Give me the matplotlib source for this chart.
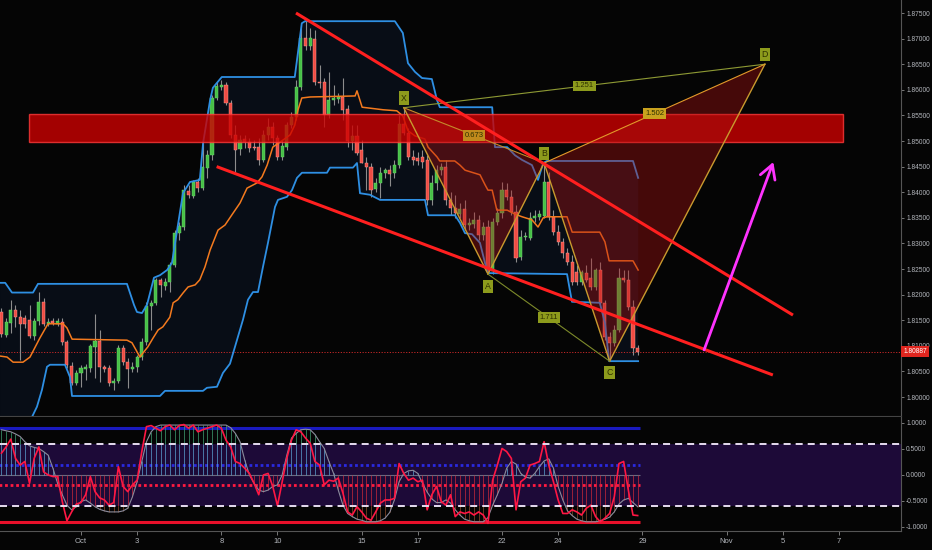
import numpy as np
import matplotlib
matplotlib.use("Agg")
import matplotlib.pyplot as plt
import matplotlib.transforms as mtransforms
from matplotlib.patches import Polygon, Rectangle

plt.rcParams['font.family'] = ['Liberation Sans', 'DejaVu Sans']

# ---------------- data (4h bars, index 0 = first bar of Oct 1) ----------------
first_bar = -17
opens = [1.8166, 1.8121, 1.8145, 1.8170, 1.8156, 1.8154, 1.8151, 1.8119, 1.8149, 1.8186,
         1.8143, 1.8149, 1.8143, 1.8147, 1.8107, 1.8061, 1.8027, 1.8047, 1.8055, 1.8057,
         1.8097, 1.8109, 1.8059, 1.8057, 1.8027, 1.8031, 1.8095, 1.8068, 1.8055, 1.8059,
         1.8078, 1.8107, 1.8178, 1.8184, 1.8229, 1.8217, 1.8225, 1.8258, 1.8320, 1.8332,
         1.8402, 1.8393, 1.8420, 1.8408, 1.8447, 1.8472, 1.8584, 1.8605, 1.8609, 1.8574,
         1.8512, 1.8484, 1.8504, 1.8498, 1.8488, 1.8488, 1.8463, 1.8512, 1.8527, 1.8506,
         1.8469, 1.8488, 1.8531, 1.8547, 1.8605, 1.8701, 1.8686, 1.8699, 1.8615, 1.8615,
         1.8551, 1.8580, 1.8582, 1.8586, 1.8563, 1.8500, 1.8510, 1.8482, 1.8458, 1.8449,
         1.8406, 1.8418, 1.8438, 1.8444, 1.8438, 1.8453, 1.8533, 1.8516, 1.8469, 1.8467,
         1.8469, 1.8463, 1.8385, 1.8418, 1.8444, 1.8449, 1.8385, 1.8369, 1.8357, 1.8367,
         1.8336, 1.8338, 1.8346, 1.8316, 1.8332, 1.8246, 1.8342, 1.8359, 1.8404, 1.8391,
         1.8361, 1.8273, 1.8312, 1.8310, 1.8350, 1.8352, 1.8354, 1.8420, 1.8352, 1.8322,
         1.8302, 1.8281, 1.8264, 1.8244, 1.8225, 1.8242, 1.8233, 1.8215, 1.8248, 1.8184,
         1.8117, 1.8105, 1.8131, 1.8233, 1.8229, 1.8176, 1.8095]
highs = [1.8174, 1.8154, 1.8190, 1.8180, 1.8170, 1.8160, 1.8180, 1.8154, 1.8205, 1.8194,
         1.8154, 1.8154, 1.8154, 1.8154, 1.8111, 1.8068, 1.8053, 1.8063, 1.8065, 1.8103,
         1.8162, 1.8131, 1.8063, 1.8063, 1.8037, 1.8101, 1.8101, 1.8076, 1.8068, 1.8082,
         1.8115, 1.8186, 1.8190, 1.8233, 1.8233, 1.8233, 1.8264, 1.8326, 1.8342, 1.8414,
         1.8414, 1.8424, 1.8428, 1.8502, 1.8482, 1.8590, 1.8615, 1.8619, 1.8615, 1.8580,
         1.8531, 1.8512, 1.8512, 1.8506, 1.8502, 1.8506, 1.8522, 1.8545, 1.8537, 1.8512,
         1.8502, 1.8537, 1.8556, 1.8619, 1.8727, 1.8734, 1.8721, 1.8717, 1.8649, 1.8623,
         1.8635, 1.8609, 1.8594, 1.8623, 1.8570, 1.8531, 1.8531, 1.8502, 1.8469, 1.8458,
         1.8428, 1.8449, 1.8447, 1.8453, 1.8463, 1.8551, 1.8565, 1.8525, 1.8482, 1.8478,
         1.8482, 1.8472, 1.8434, 1.8453, 1.8458, 1.8463, 1.8400, 1.8395, 1.8379, 1.8385,
         1.8350, 1.8361, 1.8355, 1.8342, 1.8346, 1.8350, 1.8369, 1.8420, 1.8418, 1.8404,
         1.8375, 1.8326, 1.8322, 1.8361, 1.8365, 1.8365, 1.8457, 1.8440, 1.8365, 1.8336,
         1.8310, 1.8291, 1.8277, 1.8258, 1.8248, 1.8258, 1.8271, 1.8252, 1.8264, 1.8190,
         1.8127, 1.8141, 1.8252, 1.8248, 1.8248, 1.8190, 1.8101]
lows = [1.8117, 1.8117, 1.8125, 1.8137, 1.8072, 1.8135, 1.8115, 1.8111, 1.8141, 1.8139,
        1.8139, 1.8141, 1.8139, 1.8101, 1.8057, 1.8023, 1.8023, 1.8020, 1.8033, 1.8049,
        1.8037, 1.8029, 1.8049, 1.8021, 1.8013, 1.8027, 1.8063, 1.8018, 1.8049, 1.8049,
        1.8072, 1.8101, 1.8131, 1.8180, 1.8195, 1.8209, 1.8205, 1.8254, 1.8307, 1.8326,
        1.8389, 1.8389, 1.8400, 1.8404, 1.8428, 1.8463, 1.8580, 1.8600, 1.8570, 1.8506,
        1.8440, 1.8472, 1.8486, 1.8478, 1.8482, 1.8453, 1.8459, 1.8502, 1.8492, 1.8463,
        1.8463, 1.8482, 1.8525, 1.8541, 1.8600, 1.8678, 1.8678, 1.8609, 1.8604, 1.8527,
        1.8545, 1.8570, 1.8574, 1.8541, 1.8488, 1.8482, 1.8472, 1.8458, 1.8404, 1.8391,
        1.8400, 1.8389, 1.8428, 1.8412, 1.8428, 1.8447, 1.8512, 1.8463, 1.8453, 1.8453,
        1.8447, 1.8375, 1.8375, 1.8404, 1.8434, 1.8375, 1.8355, 1.8350, 1.8350, 1.8326,
        1.8326, 1.8330, 1.8307, 1.8307, 1.8242, 1.8240, 1.8336, 1.8350, 1.8385, 1.8355,
        1.8264, 1.8268, 1.8307, 1.8307, 1.8342, 1.8346, 1.8350, 1.8346, 1.8316, 1.8297,
        1.8271, 1.8258, 1.8219, 1.8219, 1.8219, 1.8225, 1.8209, 1.8209, 1.8180, 1.8111,
        1.8072, 1.8099, 1.8127, 1.8225, 1.8170, 1.8082, 1.8082]
closes = [1.8123, 1.8147, 1.8170, 1.8156, 1.8143, 1.8143, 1.8119, 1.8149, 1.8186, 1.8143,
          1.8147, 1.8145, 1.8149, 1.8107, 1.8063, 1.8027, 1.8047, 1.8057, 1.8059, 1.8099,
          1.8109, 1.8059, 1.8055, 1.8027, 1.8031, 1.8095, 1.8068, 1.8055, 1.8059, 1.8078,
          1.8107, 1.8178, 1.8184, 1.8229, 1.8219, 1.8225, 1.8258, 1.8320, 1.8334, 1.8404,
          1.8395, 1.8420, 1.8408, 1.8449, 1.8472, 1.8584, 1.8607, 1.8609, 1.8574, 1.8512,
          1.8482, 1.8502, 1.8498, 1.8486, 1.8486, 1.8463, 1.8512, 1.8527, 1.8506, 1.8469,
          1.8490, 1.8531, 1.8547, 1.8605, 1.8701, 1.8686, 1.8701, 1.8615, 1.8613, 1.8551,
          1.8580, 1.8584, 1.8586, 1.8561, 1.8500, 1.8510, 1.8477, 1.8458, 1.8449, 1.8404,
          1.8418, 1.8438, 1.8444, 1.8436, 1.8453, 1.8533, 1.8516, 1.8469, 1.8463, 1.8461,
          1.8459, 1.8385, 1.8418, 1.8444, 1.8449, 1.8385, 1.8369, 1.8359, 1.8367, 1.8336,
          1.8340, 1.8346, 1.8316, 1.8332, 1.8246, 1.8342, 1.8359, 1.8404, 1.8391, 1.8361,
          1.8271, 1.8312, 1.8314, 1.8350, 1.8354, 1.8357, 1.8420, 1.8352, 1.8322, 1.8302,
          1.8281, 1.8264, 1.8225, 1.8225, 1.8244, 1.8229, 1.8215, 1.8248, 1.8184, 1.8117,
          1.8105, 1.8131, 1.8233, 1.8229, 1.8176, 1.8095, 1.80887]
last_price = 1.80887

# channel (upper / lower / middle) read as polylines: bar position, price
upper_bx = [-17.3, -16.2, -14.75, -10.26, -9.19, 9.83, 11.33, 11.97, 13.04, 14.11, 15.6, 16.9,
            18.4, 19.45, 21.8, 23.3, 25.4, 26.1, 27.6, 28.2, 30.1, 45.7, 47.2, 47.9, 67.1,
            68.8, 69.9, 71.4, 72.9, 75.0, 76.1, 76.7, 87.9, 88.5, 91.1, 92.8, 94.3, 96.4,
            97.7, 98.8, 99.6, 118.0, 119.1]
upper_p = [1.8223, 1.8223, 1.8204, 1.8204, 1.8221, 1.8221, 1.8180, 1.8166, 1.8164, 1.8180,
           1.8233, 1.8238, 1.8248, 1.8262, 1.8398, 1.8420, 1.8424, 1.8496, 1.8580, 1.8604,
           1.8625, 1.8625, 1.8730, 1.8734, 1.8734, 1.8711, 1.8652, 1.8635, 1.8623, 1.8621,
           1.8580, 1.8566, 1.8566, 1.8488, 1.8488, 1.8472, 1.8463, 1.8453, 1.8424, 1.8457,
           1.8461, 1.8461, 1.8428]
lower_bx = [-17.3, -12.0, -10.9, -10.47, -9.41, -8.34, -7.27, -6.63, -3.42, -2.35, -1.92,
            16.89, 17.96, 26.08, 26.93, 29.07, 30.35, 31.85, 32.92, 34.63, 35.7, 36.77,
            37.84, 38.9, 39.97, 41.47, 42.11, 44.04, 45.1, 46.17, 47.24, 52.59, 53.23,
            58.14, 59.0, 59.64, 61.78, 63.92, 73.54, 74.18, 79.95, 81.02, 82.09, 83.58,
            85.29, 86.36, 87.0, 103.9, 104.5, 104.96, 110.9, 112.0, 112.9, 119.1]
lower_p = [1.7938, 1.7934, 1.7951, 1.7961, 1.7981, 1.8014, 1.8059, 1.8063, 1.8063, 1.8039,
           1.8002, 1.8002, 1.8012, 1.8012, 1.8018, 1.8020, 1.8047, 1.8065, 1.8098, 1.8151,
           1.8190, 1.8205, 1.8205, 1.8254, 1.8301, 1.8371, 1.8385, 1.8391, 1.8404, 1.8428,
           1.8438, 1.8438, 1.8448, 1.8448, 1.8457, 1.8398, 1.8395, 1.8385, 1.8385, 1.8355,
           1.8355, 1.8340, 1.8320, 1.8318, 1.8301, 1.8262, 1.8242, 1.8240, 1.8209, 1.8186,
           1.8184, 1.8145, 1.8070, 1.8070]
mid_bx = [-17.3, -15.8, -14.5, -12.4, -10.9, -8.8, -7.05, -3.85, -3.0, -1.9,
          9.83, 10.9, 12.0, 12.6, 13.25, 14.3, 15.4, 16.5, 17.5, 19.0,
          19.7, 20.7, 21.8, 22.9, 24.4, 25.4, 26.5, 27.6, 29.3, 30.8,
          32.5, 34.0, 35.5, 37.6, 38.7, 39.8, 41.0, 43.2, 44.7, 45.7,
          46.4, 47.2, 49.0, 58.6, 59.0, 60.1, 64.6, 67.5, 68.8, 69.9,
          71.4, 73.5, 74.2, 76.1, 76.7, 79.9, 81.0, 82.1, 85.3, 86.4,
          87.0, 87.9, 88.9, 91.1, 92.8, 94.3, 96.4, 97.7, 98.8, 99.6,
          103.9, 105.0, 110.9, 112.0, 112.9, 118.0, 119.1]
mid_p = [1.8080, 1.8078, 1.8068, 1.8068, 1.8078, 1.8115, 1.8143, 1.8143, 1.8135, 1.8113,
         1.8111, 1.8106, 1.8088, 1.8078, 1.8086, 1.8098, 1.8115, 1.8131, 1.8137, 1.8156,
         1.8184, 1.8190, 1.8203, 1.8215, 1.8219, 1.8229, 1.8254, 1.8287, 1.8326, 1.8336,
         1.8359, 1.8379, 1.8408, 1.8418, 1.8430, 1.8453, 1.8488, 1.8502, 1.8512, 1.8531,
         1.8561, 1.8584, 1.8586, 1.8588, 1.8598, 1.8566, 1.8561, 1.8559, 1.8549, 1.8520,
         1.8510, 1.8504, 1.8488, 1.8469, 1.8461, 1.8461, 1.8453, 1.8443, 1.8434, 1.8414,
         1.8404, 1.8404, 1.8365, 1.8365, 1.8357, 1.8352, 1.8346, 1.8332, 1.8350, 1.8352,
         1.8352, 1.8322, 1.8322, 1.8303, 1.8266, 1.8266, 1.8248]

# drawings
zone_bars = (-11.1, 162.9)
zone_prices = (1.8498, 1.8553)
trend_upper = ((45.96, 1.8750), (152.2, 1.8160))
trend_lower = ((29.0, 1.8450), (147.9, 1.8043))
arrow_from = (133.2, 1.8092)
arrow_to = (148.0, 1.8459)

pattern_names = ['X', 'A', 'B', 'C', 'D']
pattern_bars = [69, 87, 99, 113, 146.2]
pattern_prices = [1.8565, 1.8240, 1.8457, 1.8070, 1.8650]
ratio_pairs = [('X', 'D', '1.251'), ('X', 'B', '0.673'), ('B', 'D', '1.502'), ('A', 'C', '1.711')]

# oscillator (per bar)
osc = [0.42, 0.54, 0.69, 0.32, 0.19, 0.26, -0.16, 0.32, 0.54, 0.06,
       0.00, -0.03, -0.03, -0.51, -0.88, -0.71, -0.56, -0.53, -0.38, -0.03,
       -0.32, -0.44, -0.48, -0.58, -0.53, 0.16, -0.22, -0.32, -0.19, -0.10,
       0.45, 0.93, 0.95, 0.90, 0.85, 0.93, 0.96, 0.87, 0.95, 0.97,
       0.90, 0.96, 0.83, 0.87, 0.90, 0.93, 0.96, 0.90, 0.67, 0.54,
       0.26, 0.22, 0.13, 0.03, -0.16, -0.38, 0.00, 0.03, -0.22, -0.59,
       -0.13, 0.32, 0.67, 0.87, 0.83, 0.71, 0.61, 0.26, 0.19, -0.19,
       -0.10, -0.12, -0.06, -0.35, -0.71, -0.77, -0.61, -0.71, -0.83, -0.87,
       -0.71, -0.54, -0.48, -0.48, -0.45, 0.22, 0.03, -0.10, -0.06, -0.13,
       -0.10, -0.67, -0.38, -0.22, -0.51, -0.58, -0.38, -0.80, -0.71, -0.74,
       -0.71, -0.77, -0.71, -0.77, -0.93, -0.10, 0.19, 0.51, 0.45, 0.32,
       -0.67, -0.13, -0.06, 0.19, 0.22, 0.26, 0.64, 0.19, -0.13, -0.48,
       -0.74, -0.74, -0.67, -0.71, -0.77, -0.64, -0.58, -0.80, -0.90, -0.83,
       -0.74, -0.42, 0.22, 0.26, -0.29, -0.77, -0.78]
signal = [0.87, 0.85, 0.83, 0.79, 0.74, 0.64, 0.56, 0.53, 0.51, 0.45,
          0.38, 0.13, -0.16, -0.38, -0.58, -0.67, -0.61, -0.51, -0.48, -0.54,
          -0.61, -0.66, -0.69, -0.71, -0.71, -0.71, -0.69, -0.64, -0.42, -0.13,
          0.26, 0.64, 0.83, 0.93, 0.96, 0.96, 0.96, 0.96, 0.96, 0.96,
          0.96, 0.96, 0.96, 0.96, 0.96, 0.96, 0.96, 0.96, 0.96, 0.91,
          0.80, 0.64, 0.29, 0.00, -0.16, -0.29, -0.32, -0.29, -0.22, -0.19,
          0.00, 0.38, 0.71, 0.80, 0.87, 0.88, 0.87, 0.78, 0.64, 0.51,
          0.26, 0.03, -0.29, -0.58, -0.74, -0.80, -0.85, -0.87, -0.90, -0.90,
          -0.90, -0.88, -0.83, -0.72, -0.48, -0.13, 0.03, 0.08, 0.09, 0.03,
          -0.16, -0.33, -0.46, -0.53, -0.53, -0.48, -0.54, -0.67, -0.77, -0.85,
          -0.88, -0.90, -0.90, -0.90, -0.82, -0.58, -0.38, -0.16, 0.13, 0.26,
          0.21, 0.03, -0.04, -0.06, 0.03, 0.16, 0.27, 0.31, 0.13, -0.22,
          -0.48, -0.69, -0.78, -0.85, -0.88, -0.90, -0.90, -0.90, -0.88, -0.85,
          -0.81, -0.71, -0.56, -0.48, -0.45, -0.53, -0.61]
osc_outer = 0.9
osc_band = 0.6
osc_inner = 0.2

date_ticks = [0, 12, 30, 42, 60, 72, 90, 102, 120, 138, 150, 162]
date_labels = ['Oct', '3', '8', '10', '15', '17', '22', '24', '29', 'Nov', '5', '7']
price_ticks = [1.800, 1.805, 1.810, 1.815, 1.820, 1.825, 1.830, 1.835, 1.840, 1.845,
               1.850, 1.855, 1.860, 1.865, 1.870, 1.875]
osc_ticks = [1.0, 0.5, 0.0, -0.5, -1.0]

# ---------------- styling ----------------
BG = '#050505'
TXT = '#b4b7bd'
GRID = '#555555'

fig = plt.figure(figsize=(9.32, 5.5), dpi=100, facecolor=BG)
ax = fig.add_axes([0, 134 / 550, 901 / 932, 416 / 550], facecolor=BG)
axo = fig.add_axes([0, 19 / 550, 901 / 932, 114 / 550], facecolor=BG, sharex=ax)

bars = np.arange(first_bar, first_bar + len(closes))
o = np.array(opens); h = np.array(highs); l = np.array(lows); c = np.array(closes)

ax.set_xlim(-17.31, 175.29)
ax.set_ylim(1.79629, 1.87754)

# channel fill
ch = np.vstack([np.column_stack([upper_bx, upper_p]),
                np.column_stack([lower_bx, lower_p])[::-1]])
ax.add_patch(Polygon(ch, closed=True, facecolor='#080d16', edgecolor='none', zorder=1))

# current price line
ax.axhline(last_price, color='#c62828', lw=0.7, ls=(0, (1.2, 1.6)), zorder=2)

# candles
up = c >= o
ax.vlines(bars, l, h, color='#8c8c8c', lw=0.8, zorder=3)
bb = np.minimum(o, c)
bh = np.maximum(np.abs(c - o), 0.00012)
ax.bar(bars[up], bh[up], bottom=bb[up], width=0.66, color='#47c047',
       edgecolor='#73dd73', linewidth=0.3, zorder=4)
ax.bar(bars[~up], bh[~up], bottom=bb[~up], width=0.66, color='#ef4c44',
       edgecolor='#ffa39a', linewidth=0.3, zorder=4)

# channel lines
ax.plot(upper_bx, upper_p, color='#2e8fe3', lw=1.3, zorder=5)
ax.plot(lower_bx, lower_p, color='#2e8fe3', lw=1.3, zorder=5)
ax.plot(mid_bx, mid_p, color='#f47a1e', lw=1.1, zorder=5)

# resistance zone
ax.add_patch(Rectangle((zone_bars[0], zone_prices[0]), zone_bars[1] - zone_bars[0],
                       zone_prices[1] - zone_prices[0], facecolor='#cc0000', alpha=0.8,
                       edgecolor='#ff3a3a', lw=1.0, zorder=6))

# harmonic pattern
P = {n: (bx, pp) for n, bx, pp in zip(pattern_names, pattern_bars, pattern_prices)}
ax.add_patch(Polygon([P['X'], P['A'], P['B']], closed=True, facecolor='#b01212',
                     alpha=0.38, edgecolor='none', zorder=7))
ax.add_patch(Polygon([P['B'], P['C'], P['D']], closed=True, facecolor='#b01212',
                     alpha=0.38, edgecolor='none', zorder=7))
leg_col = '#c99a2e'
for a_, b_ in [('X', 'A'), ('A', 'B'), ('B', 'C'), ('C', 'D')]:
    ax.plot([P[a_][0], P[b_][0]], [P[a_][1], P[b_][1]], color=leg_col, lw=1.0, zorder=8)
ratio_line_col = {'1.251': '#8e9a34', '0.673': '#c58a2a', '1.502': '#e39a2a', '1.711': '#7d8a2a'}
ratio_box_col = {'1.251': '#8d9b1c', '0.673': '#c08a1c', '1.502': '#c9a21e', '1.711': '#8d9b1c'}
for a_, b_, txt in ratio_pairs:
    ax.plot([P[a_][0], P[b_][0]], [P[a_][1], P[b_][1]], color=ratio_line_col[txt],
            lw=0.8, zorder=8)
    mx = (P[a_][0] + P[b_][0]) / 2
    my = (P[a_][1] + P[b_][1]) / 2
    ax.text(mx, my, txt, fontsize=5.5, color='#2e3000', ha='center', va='center', zorder=12,
            bbox=dict(boxstyle='square,pad=0.25', fc=ratio_box_col[txt], ec='none'))
label_off = {'X': 7, 'A': -9, 'B': 7, 'C': -8, 'D': 7}
for n in pattern_names:
    ax.annotate(n, xy=P[n], xytext=(0, label_off[n]), textcoords='offset points',
                fontsize=6.3, color='#2e3000', ha='center', va='center', zorder=12,
                bbox=dict(boxstyle='square,pad=0.25', fc='#8d9b1c', ec='none'))

# trend lines
for (x0, y0), (x1, y1) in [trend_upper, trend_lower]:
    ax.plot([x0, x1], [y0, y1], color='#ff1f1f', lw=2.2, zorder=9, solid_capstyle='butt')

# arrow
ax.annotate('', xy=arrow_to, xytext=arrow_from, zorder=10,
            arrowprops=dict(arrowstyle='->,head_length=0.7,head_width=0.4', color='#ff33ff',
                            lw=2.0, mutation_scale=14, shrinkA=0, shrinkB=0))

# axes cosmetics main
for s in ['top', 'left']:
    ax.spines[s].set_visible(False)
ax.spines['right'].set_color(GRID)
ax.spines['bottom'].set_color('#444444')
ax.spines['right'].set_linewidth(0.8)
ax.yaxis.tick_right()
ax.set_yticks(price_ticks)
ax.set_yticklabels(['%.5f' % v for v in price_ticks])
ax.tick_params(axis='y', colors='#8a8a8a', labelcolor=TXT, labelsize=4.8, length=2.5,
               width=0.6, pad=1.2)
ax.tick_params(axis='x', length=0, labelbottom=False)

# last price label
tr = mtransforms.offset_copy(ax.get_yaxis_transform(), fig=fig, x=2.5, y=0, units='dots')
ax.text(1.0, last_price, '%.5f' % last_price, transform=tr, fontsize=4.8, color='white',
        ha='left', va='center', zorder=30, clip_on=False,
        bbox=dict(boxstyle='square,pad=0.35', fc='#e0261f', ec='none'))

# ---------------- oscillator ----------------
axo.set_ylim(-1.077, 1.115)
end_x = bars[-1] + 0.4
axo.axhspan(-osc_band, osc_band, color='#1d0a38', zorder=0, lw=0)
axo.axhline(osc_band, color='#e6dcf0', lw=1.4, ls=(0, (3.6, 2.6)), zorder=6)
axo.axhline(-osc_band, color='#e6dcf0', lw=1.4, ls=(0, (3.6, 2.6)), zorder=6)
axo.hlines(osc_outer, bars[0] - 0.5, end_x, color='#1a1ac0', lw=2.2, zorder=2)
axo.hlines(-osc_outer, bars[0] - 0.5, end_x, color='#e8102a', lw=2.2, zorder=2)
axo.hlines(osc_inner, bars[0] - 0.5, end_x, color='#2a2ae0', lw=2.0, ls=(0, (1, 1)), zorder=2)
axo.hlines(-osc_inner, bars[0] - 0.5, end_x, color='#ff1a40', lw=2.0, ls=(0, (1, 1)), zorder=2)
axo.hlines(0, bars[0] - 0.5, end_x, color='#6a6a80', lw=0.8, zorder=2)

sig = np.array(signal)
clip_sig = np.clip(sig, -osc_band, osc_band)
pos = sig > 0
neg = sig < 0
hi = sig > osc_band
lo = sig < -osc_band
axo.vlines(bars[pos], 0, clip_sig[pos], color='#5a9fcf', lw=0.6, alpha=0.85, zorder=3)
axo.vlines(bars[hi], osc_band, sig[hi], color='#3f9f72', lw=0.6, alpha=0.85, zorder=3)
axo.vlines(bars[neg], clip_sig[neg], 0, color='#c8283a', lw=0.6, alpha=0.85, zorder=3)
axo.vlines(bars[lo], sig[lo], -osc_band, color='#8a4a2a', lw=0.6, alpha=0.85, zorder=3)
axo.plot(bars, sig, color='#8c8c9c', lw=0.8, zorder=4)
axo.plot(bars, osc, color='#ff1744', lw=1.2, zorder=5)

for s in ['top', 'left']:
    axo.spines[s].set_visible(False)
axo.spines['right'].set_color(GRID)
axo.spines['bottom'].set_color(GRID)
axo.spines['right'].set_linewidth(0.8)
axo.yaxis.tick_right()
axo.set_yticks(osc_ticks)
axo.set_yticklabels(['%.4f' % v for v in osc_ticks])
axo.tick_params(axis='y', colors='#8a8a8a', labelcolor=TXT, labelsize=4.8, length=2.5,
                width=0.6, pad=1.2)
axo.set_xticks(date_ticks)
axo.set_xticklabels(date_labels)
axo.tick_params(axis='x', colors='#8a8a8a', labelcolor=TXT, labelsize=5.5, length=3,
                width=0.6, pad=2)

fig.savefig('out.png', dpi=100, facecolor=BG)
